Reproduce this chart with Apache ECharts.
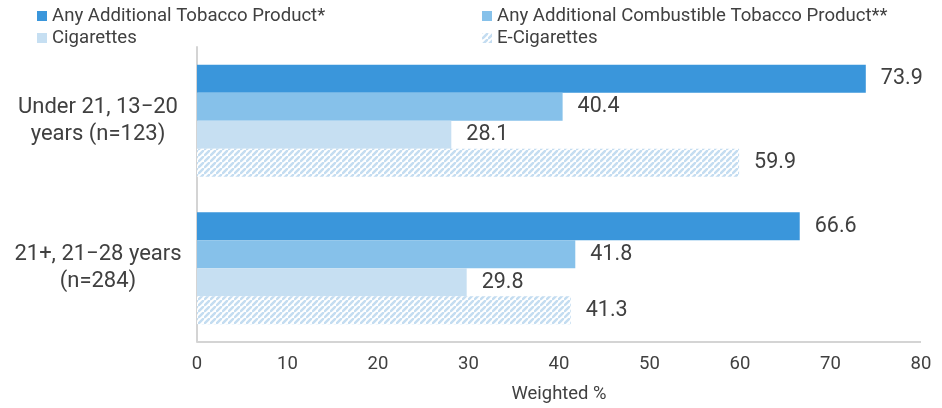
<!DOCTYPE html>
<html>
<head>
<meta charset="utf-8">
<script src="https://cdn.jsdelivr.net/npm/echarts@6/dist/echarts.min.js"></script>
<style>
  html, body { margin: 0; padding: 0; background: #fff; }
  #chart { width: 942px; height: 408px; }
</style>
</head>
<body>
<div id="chart"></div>
<script>
// Age groups (top to bottom)
const categories = ['Under 21, 13\u221220\nyears (n=123)', '21+, 21\u221228 years\n(n=284)'];
const seriesNames = [
  'Any Additional Tobacco Product*',
  'Any Additional Combustible Tobacco Product**',
  'Cigarettes',
  'E-Cigarettes'
];
const anyTobacco = [73.9, 66.6];
const anyCombustible = [40.4, 41.8];
const cigarettes = [28.1, 29.8];
const eCigarettes = [59.9, 41.3];
const xTicks = [0, 10, 20, 30, 40, 50, 60, 70, 80];

// Diagonal hatch fill for the e-cigarette bars
function hatch() {
  const s = 6;
  const c = document.createElement('canvas');
  c.width = s; c.height = s;
  const g = c.getContext('2d');
  g.fillStyle = '#ffffff';
  g.fillRect(0, 0, s, s);
  g.strokeStyle = '#c4ddf1';
  g.lineWidth = 2.5;
  g.beginPath();
  g.moveTo(-1, s + 1); g.lineTo(s + 1, -1);
  g.moveTo(-s - 1, 1); g.lineTo(1, -s - 1);
  g.moveTo(-1 + s, 2 * s + 1); g.lineTo(2 * s + 1, s - 1);
  g.moveTo(-1 - s, 1); g.lineTo(1, -1);
  g.stroke();
  return { image: c, repeat: 'repeat' };
}

const colors = ['#3a96db', '#86c1ea', '#c6dff2', hatch()];
const values = [anyTobacco, anyCombustible, cigarettes, eCigarettes];

const chart = echarts.init(document.getElementById('chart'));
const font = 'Roboto, "Noto Sans", sans-serif';

const legendBase = {
  top: 6, orient: 'vertical', itemGap: 2, padding: 0,
  itemWidth: 10, itemHeight: 10, icon: 'rect',
  textStyle: { fontSize: 18.6, color: '#404040', lineHeight: 20 }
};

chart.setOption({
  animation: false,
  textStyle: { fontFamily: font },
  legend: [
    Object.assign({}, legendBase, { left: 37, data: [seriesNames[0], seriesNames[2]] }),
    Object.assign({}, legendBase, { left: 482, data: [seriesNames[1], seriesNames[3]] })
  ],
  grid: { left: 197, right: 21, top: 47, bottom: 66, containLabel: false },
  xAxis: {
    type: 'value', min: 0, max: 80, interval: 10,
    name: 'Weighted %', nameLocation: 'middle', nameGap: 43,
    nameTextStyle: { fontSize: 18.4, color: '#404040' },
    axisLine: { show: false },
    axisTick: { show: false },
    splitLine: { show: false },
    axisLabel: { fontSize: 18.5, color: '#404040', margin: 13,
      formatter: v => xTicks.includes(v) ? String(v) : '' }
  },
  yAxis: {
    type: 'category', inverse: true, data: categories,
    axisLine: { show: true, lineStyle: { color: '#d4d4d4', width: 2 } },
    axisTick: { show: false },
    axisLabel: { fontSize: 22, color: '#404040', margin: 99, lineHeight: 27, align: 'center' }
  },
  graphic: [{
    type: 'line', z: 5,
    shape: { x1: 197, y1: 342, x2: 921, y2: 342 },
    style: { stroke: '#d4d4d4', lineWidth: 2 }
  }],
  series: values.map((vals, i) => ({
    name: seriesNames[i],
    type: 'bar',
    data: vals,
    barGap: '0%',
    barCategoryGap: '24%',
    itemStyle: { color: colors[i] },
    label: {
      show: true, position: 'right', distance: 15,
      fontSize: 21.5, color: '#404040',
      formatter: p => p.value.toFixed(1)
    }
  }))
});
</script>
</body>
</html>
